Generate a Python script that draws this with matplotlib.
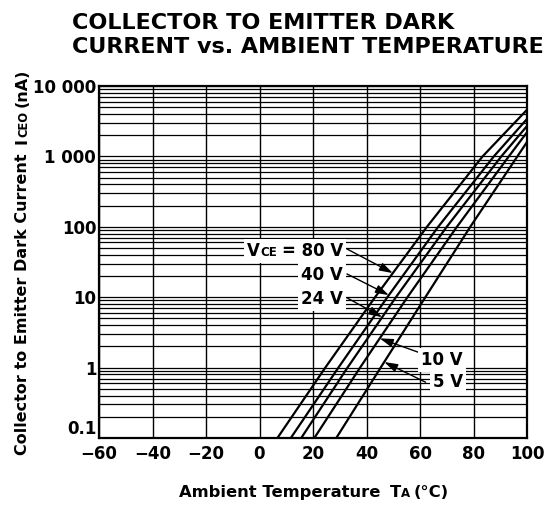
import numpy as np
import matplotlib
matplotlib.use("Agg")
import matplotlib.pyplot as plt
from matplotlib.patches import Rectangle
from matplotlib.transforms import Bbox

# decadas de corriente (nA) y temperatura (°C) donde cada curva las cruza
decadas = [0.1, 1, 10, 100, 1000]
temp_80v = [6.7, 24.6, 43.2, 62.6, 83.4]
temp_40v = [11.7, 29.5, 47.8, 66.8, 87.6]
temp_24v = [15.6, 32.9, 51.0, 70.0, 90.4]
temp_10v = [20.5, 37.6, 55.3, 73.8, 93.2]
temp_5v = [28.7, 45.3, 62.0, 78.8, 96.4]
# corriente a 100 °C (borde derecho)
fin_curvas = [4600, 3400, 2700, 2200, 1600]

etiquetas_v = ["80 V", "40 V", "24 V", "10 V", "5 V"]
# corriente donde apunta cada flecha
flecha_i = [22, 10.7, 5.2, 2.6, 1.2]

x_ticks = [-60, -40, -20, 0, 20, 40, 60, 80, 100]
x_labels = ["\u221260", "\u221240", "\u221220", "0", "20", "40", "60", "80", "100"]
y_ticks = [0.1, 1, 10, 100, 1000, 10000]
y_labels = ["0.1", "1", "10", "100", "1 000", "10 000"]

FUENTE = dict(family="DejaVu Sans", weight="bold")
W, H = 554, 512


def texto_partes(fig, x, y, partes, vertical=False, ha="center", fondo=False):
    '''
    Dibuja un texto armado por partes (texto, tamano, espacio_px) en pixeles
    de la figura, todas sobre la misma linea base.
    '''
    r = fig.canvas.get_renderer()
    anchos = []
    for txt, size, gap in partes:
        t = fig.text(0, 0, txt, fontsize=size, **FUENTE)
        anchos.append(t.get_window_extent(r).width + gap)
        t.remove()
    total = sum(anchos)
    pos = (y if vertical else x)
    if ha == "center":
        pos -= total / 2
    elif ha == "right":
        pos -= total
    textos = []
    for (txt, size, gap), a in zip(partes, anchos):
        xy = (x / W, pos / H) if vertical else (pos / W, y / H)
        textos.append(fig.text(*xy, txt, rotation=90 if vertical else 0,
                               fontsize=size, ha="left", va="baseline",
                               rotation_mode="anchor", zorder=6, **FUENTE))
        pos += a
    if fondo:
        # caja blanca detras de todo el texto
        caja = Bbox.union([t.get_window_extent(r) for t in textos]).padded(3)
        fig.patches.append(Rectangle((caja.x0, caja.y0), caja.width, caja.height,
                                     transform=None, facecolor="white",
                                     edgecolor="none", zorder=5))


def main():
    fig = plt.figure(figsize=(W / 100, H / 100), dpi=100)
    ax = fig.add_axes([99 / W, 1 - 438 / H, 428 / W, 352 / H])

    curvas = [temp_80v, temp_40v, temp_24v, temp_10v, temp_5v]
    for temps, fin in zip(curvas, fin_curvas):
        t = list(temps) + [100]
        i = list(decadas) + [fin]
        ax.plot(t, i, color="black", lw=1.6, zorder=3, solid_joinstyle="round")

    ax.set_yscale("log")
    ax.set_xlim(-60, 100)
    ax.set_ylim(0.1, 10000)
    ax.set_xticks(x_ticks)
    ax.set_xticklabels(x_labels)
    ax.set_yticks(y_ticks)
    ax.set_yticklabels(y_labels)
    ax.yaxis.set_minor_locator(matplotlib.ticker.LogLocator(base=10, subs=range(2, 10)))
    ax.yaxis.set_minor_formatter(matplotlib.ticker.NullFormatter())
    ax.grid(True, which="major", axis="x", color="black", lw=1.0)
    ax.grid(True, which="both", axis="y", color="black", lw=0.9)
    ax.tick_params(which="both", length=0)
    ax.tick_params(axis="x", pad=5)
    ax.tick_params(axis="y", pad=2)
    for lab in ax.get_xticklabels() + ax.get_yticklabels():
        lab.set_fontfamily(FUENTE["family"])
        lab.set_fontweight(FUENTE["weight"])
        lab.set_fontsize(12)
    ax.get_yticklabels()[0].set_va("bottom")
    for s in ax.spines.values():
        s.set_linewidth(1.6)

    # titulo
    fig.text(72 / W, 1 - 29 / H, "COLLECTOR TO EMITTER DARK", fontsize=16,
             ha="left", va="baseline", **FUENTE)
    fig.text(72 / W, 1 - 53 / H, "CURRENT vs. AMBIENT TEMPERATURE", fontsize=16,
             ha="left", va="baseline", **FUENTE)

    fig.canvas.draw()
    # ejes
    texto_partes(fig, 314, 15, [("Ambient Temperature", 11.8, 9), ("T", 11.8, 0),
                                ("A", 8.5, 4), ("(°C)", 11.8, 0)])
    texto_partes(fig, 27, 250, [("Collector to Emitter Dark Current", 11.5, 9),
                                ("I", 11.5, 1), ("CEO", 8.3, 4), ("(nA)", 11.5, 0)],
                 vertical=True)

    # etiquetas de VCE con flechas
    anclas = [(31.2, 47), (31.2, 21.4), (31.2, 9.8), (76.1, 1.32), (76.1, 0.65)]
    inicios = [(32.7, 48.4), (32.7, 21.4), (32.7, 9.8), (60.2, 1.61), (62.1, 0.62)]
    for k, (temps, fin) in enumerate(zip(curvas, fin_curvas)):
        px, py = ax.transData.transform(anclas[k])
        py -= 6
        if k == 0:
            partes = [("V", 12, 0), ("CE", 8.5, 5), ("= 80 V", 12, 0)]
        else:
            partes = [(etiquetas_v[k], 12, 0)]
        texto_partes(fig, px, py, partes, ha="right", fondo=True)

        t = list(temps) + [100]
        i = np.log10(list(decadas) + [fin])
        t_flecha = np.interp(np.log10(flecha_i[k]), i, t)
        ax.annotate("", xy=(t_flecha, flecha_i[k]), xytext=inicios[k],
                    arrowprops=dict(arrowstyle="-|>,head_length=0.8,head_width=0.25",
                                    color="black", lw=1.0, shrinkA=0, shrinkB=0),
                    zorder=6)

    fig.savefig("out.png", dpi=100)


if __name__ == "__main__":
    main()
